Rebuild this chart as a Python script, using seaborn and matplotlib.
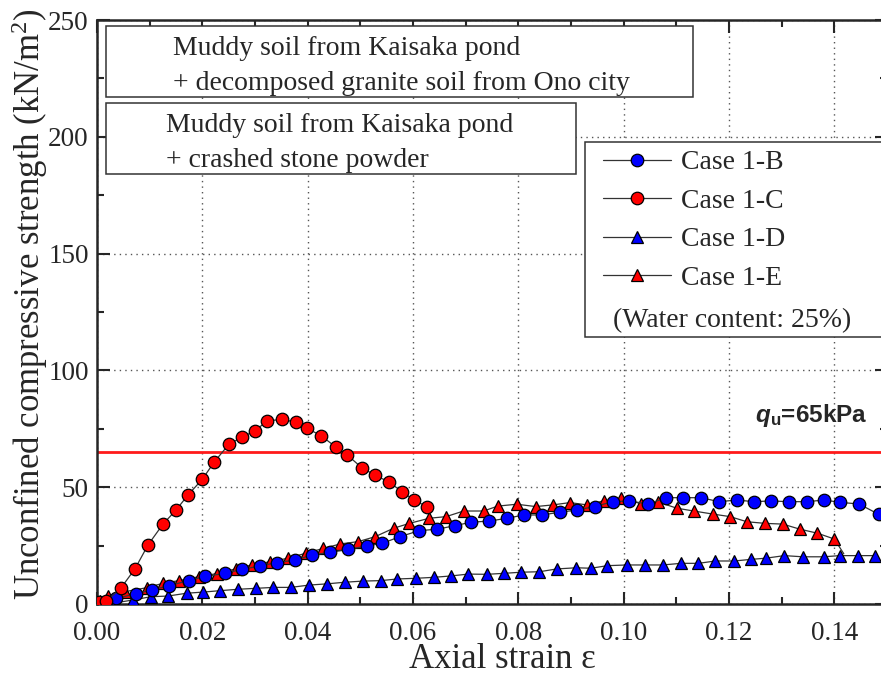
import matplotlib
matplotlib.use("Agg")
import matplotlib.pyplot as plt
from matplotlib.lines import Line2D
from matplotlib.patches import Rectangle
from matplotlib.ticker import MultipleLocator, FormatStrFormatter
import seaborn as sns
import pandas as pd

# ---- data: axial strain vs unconfined compressive strength (kN/m^2) ----
strain_1b = [0.0037, 0.0075, 0.0104, 0.0136, 0.0174, 0.0205, 0.0243, 0.0275, 0.0310, 0.0341,
             0.0376, 0.0409, 0.0443, 0.0477, 0.0512, 0.0542, 0.0575, 0.0612, 0.0646, 0.0679,
             0.0710, 0.0745, 0.0779, 0.0810, 0.0845, 0.0879, 0.0911, 0.0945, 0.0979, 0.1011,
             0.1047, 0.1080, 0.1112, 0.1147, 0.1181, 0.1215, 0.1247, 0.1280, 0.1314, 0.1348,
             0.1381, 0.1411, 0.1447, 0.1484]
qu_1b = [2.4, 4.4, 6.0, 7.8, 10.0, 11.8, 13.1, 14.8, 16.3, 17.7,
         18.8, 21.0, 22.1, 23.4, 24.8, 26.0, 28.8, 31.4, 32.0, 33.5,
         35.0, 35.5, 36.7, 38.1, 38.1, 39.3, 40.2, 41.7, 43.8, 44.1,
         42.8, 45.5, 45.5, 45.5, 43.8, 44.5, 43.8, 44.1, 43.8, 43.8,
         44.5, 43.5, 42.8, 38.4]

strain_1c = [0.0004, 0.0018, 0.0045, 0.0072, 0.0097, 0.0125, 0.0150, 0.0173, 0.0200, 0.0223,
             0.0251, 0.0276, 0.0300, 0.0323, 0.0351, 0.0377, 0.0399, 0.0425, 0.0453, 0.0475,
             0.0504, 0.0527, 0.0555, 0.0579, 0.0602, 0.0626]
qu_1c = [0.8, 1.2, 6.7, 15.0, 25.3, 34.1, 40.2, 46.7, 53.4, 60.9,
         68.5, 71.4, 74.2, 78.3, 79.1, 77.8, 75.2, 72.1, 67.3, 63.8,
         58.1, 55.3, 52.1, 48.1, 44.5, 41.7]

strain_1d = [0.0035, 0.0068, 0.0102, 0.0135, 0.0170, 0.0202, 0.0234, 0.0268, 0.0302, 0.0335,
             0.0368, 0.0403, 0.0436, 0.0470, 0.0505, 0.0539, 0.0570, 0.0606, 0.0639, 0.0672,
             0.0705, 0.0740, 0.0772, 0.0805, 0.0840, 0.0873, 0.0910, 0.0938, 0.0969, 0.1006,
             0.1041, 0.1074, 0.1109, 0.1142, 0.1174, 0.1210, 0.1242, 0.1270, 0.1305, 0.1340,
             0.1380, 0.1410, 0.1445, 0.1478]
qu_1d = [0.5, 1.7, 3.1, 3.4, 4.6, 5.1, 5.7, 6.3, 6.7, 7.1,
         7.1, 8.1, 8.6, 9.3, 9.8, 10.0, 10.7, 11.0, 11.4, 12.0,
         12.8, 12.7, 13.1, 13.6, 13.8, 15.0, 15.5, 15.3, 16.4, 16.7,
         16.7, 16.7, 17.4, 17.4, 18.4, 18.4, 19.1, 19.6, 20.7, 20.2,
         20.2, 20.7, 20.7, 20.7]

strain_1e = [0.0006, 0.0021, 0.0054, 0.0095, 0.0126, 0.0156, 0.0194, 0.0227, 0.0263, 0.0294,
             0.0329, 0.0363, 0.0396, 0.0430, 0.0462, 0.0496, 0.0528, 0.0563, 0.0593, 0.0631,
             0.0663, 0.0696, 0.0734, 0.0761, 0.0797, 0.0833, 0.0865, 0.0898, 0.0931, 0.0963,
             0.0995, 0.1032, 0.1066, 0.1101, 0.1133, 0.1169, 0.1202, 0.1234, 0.1269, 0.1302,
             0.1335, 0.1368, 0.1400, 0.1418]
qu_1e = [1.2, 3.4, 5.3, 7.0, 8.9, 10.0, 11.7, 13.0, 15.0, 16.7,
         18.1, 19.6, 21.7, 23.8, 25.7, 26.7, 28.8, 32.4, 34.5, 36.7,
         37.4, 39.8, 39.8, 41.9, 42.7, 41.7, 42.4, 43.4, 42.4, 44.2,
         45.2, 43.0, 43.6, 41.0, 39.8, 38.5, 37.4, 35.2, 34.5, 34.2,
         32.0, 30.3, 27.8, 21.5]

case_labels = ["Case 1-B", "Case 1-C", "Case 1-D", "Case 1-E"]
x_ticks = [0.00, 0.02, 0.04, 0.06, 0.08, 0.10, 0.12, 0.14]
y_ticks = [0, 50, 100, 150, 200, 250]
qu_target = 65

box1_lines = ["Muddy soil from Kaisaka pond", "+ decomposed granite soil from Ono city"]
box2_lines = ["Muddy soil from Kaisaka pond", "+ crashed stone powder"]
water_note = "(Water content: 25%)"

# ---- style ----
sns.set_style("ticks")
plt.rcParams["font.family"] = ["Liberation Serif", "DejaVu Serif"]
plt.rcParams["mathtext.fontset"] = "custom"
plt.rcParams["mathtext.rm"] = "Liberation Serif"
plt.rcParams["mathtext.it"] = "Liberation Serif:italic"
plt.rcParams["mathtext.bf"] = "Liberation Sans:bold"
plt.rcParams["mathtext.bfit"] = "Liberation Sans:bold:italic"

fig = plt.figure(figsize=(8.81, 6.83), dpi=100)
ax = fig.add_axes([0.1101, 0.1157, 0.8967, 0.855])

line_kw = dict(color="#333333", linewidth=0.9, markeredgecolor="black",
               markeredgewidth=0.9, markersize=9)

series = [
    (case_labels[2], strain_1d, qu_1d, "^", "#0000ff", None),
    (case_labels[3], strain_1e, qu_1e, "^", "#ff0000", list(range(len(strain_1e) - 1))),
    (case_labels[0], strain_1b, qu_1b, "o", "#0000ff", None),
    (case_labels[1], strain_1c, qu_1c, "o", "#ff0000", None),
]

ax.axhline(qu_target, color="#ff1a1a", linewidth=2.0, zorder=2)

for name, xs, ys, mk, fc, every in series:
    df = pd.DataFrame({"strain": xs, "qu": ys})
    kw = dict(line_kw)
    if every is not None:
        kw["markevery"] = every
    sns.lineplot(data=df, x="strain", y="qu", ax=ax, sort=False, estimator=None,
                 marker=mk, markerfacecolor=fc, zorder=3, **kw)

ax.set_xlim(0, 0.15)
ax.set_ylim(0, 250)
ax.set_xticks(x_ticks)
ax.set_yticks(y_ticks)
ax.xaxis.set_major_formatter(FormatStrFormatter("%.2f"))
ax.xaxis.set_minor_locator(MultipleLocator(0.01))
ax.yaxis.set_minor_locator(MultipleLocator(25))
ax.tick_params(which="both", direction="in", top=True, right=True, width=1.5,
               labelsize=19.5)
ax.tick_params(axis="x", which="both", pad=12)
ax.tick_params(axis="y", which="both", pad=6)
ax.tick_params(which="major", length=9)
ax.tick_params(which="minor", length=5)
for sp in ax.spines.values():
    sp.set_linewidth(1.8)
ax.grid(True, which="major", linestyle=(0, (1, 3)), color="#555555", linewidth=1.0, zorder=0)

ax.set_xlabel("Axial strain ε", fontsize=25, va="center")
ax.xaxis.set_label_coords(0.513, -0.0959)
ax.set_ylabel("Unconfined compressive strength (kN/m$^{2}$)", fontsize=25, va="center")
ax.yaxis.set_label_coords(-0.0848, 0.514)

# annotation boxes (axes-fraction coordinates)
box_kw = dict(transform=ax.transAxes, facecolor="white", edgecolor="#333333",
              linewidth=1.1, zorder=5, clip_on=False)
ax.add_patch(Rectangle((0.0114, 0.8682), 0.7430, 0.1215, **box_kw))
ax.add_patch(Rectangle((0.0114, 0.7363), 0.5949, 0.1216, **box_kw))
ax.add_patch(Rectangle((0.6177, 0.4572), 0.45, 0.3339, **box_kw))

txt_kw = dict(transform=ax.transAxes, fontsize=20, va="baseline", zorder=6)
ax.text(0.0962, 0.9401, box1_lines[0], **txt_kw)
ax.text(0.0962, 0.8801, box1_lines[1], **txt_kw)
ax.text(0.0873, 0.8082, box2_lines[0], **txt_kw)
ax.text(0.0873, 0.7483, box2_lines[1], **txt_kw)
ax.text(0.6532, 0.4743, water_note, **txt_kw)

ax.text(0.8329, 0.3116, r"$\mathbfit{q}_{\mathbf{u}}$=65kPa", transform=ax.transAxes,
        fontsize=17.5, fontweight="bold", family="Liberation Sans", va="baseline", zorder=6)

handles = []
for name, mk, fc in [(case_labels[0], "o", "#0000ff"), (case_labels[1], "o", "#ff0000"),
                     (case_labels[2], "^", "#0000ff"), (case_labels[3], "^", "#ff0000")]:
    handles.append(Line2D([], [], marker=mk, markerfacecolor=fc, label=name, **line_kw))
leg = ax.legend(handles=handles, loc="upper left", bbox_to_anchor=(0.6405, 0.7774),
                frameon=False, fontsize=20, handlelength=2.45, handletextpad=0.35,
                labelspacing=0.47, borderpad=0, borderaxespad=0)
leg.set_zorder(7)

fig.savefig("out.png", dpi=100)
